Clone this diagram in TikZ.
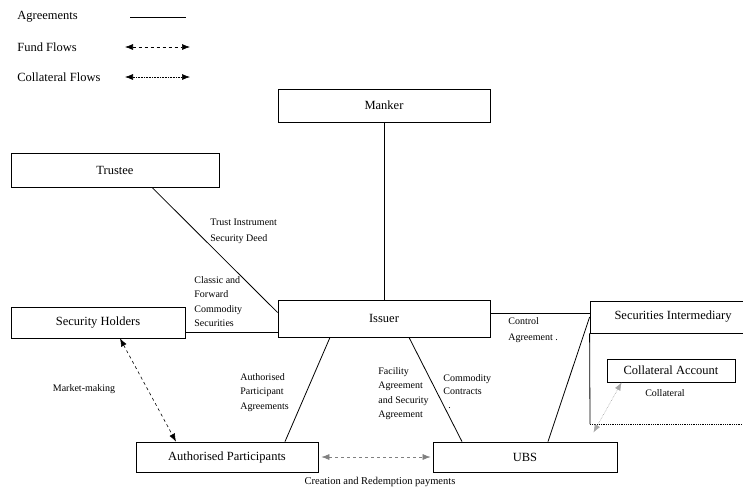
\documentclass[tikz,border=0pt]{standalone}
\usepackage{fontspec}
\setmainfont{Liberation Serif}
\usetikzlibrary{positioning,arrows.meta}

\begin{document}
\begin{tikzpicture}[x=1pt, y=-1pt, line width=0.8pt,
  box/.style={draw=black, inner sep=0pt, font=\fontsize{12.5}{14}\selectfont},
  lbl/.style={inner sep=0pt, align=left, anchor=north west, font=\fontsize{10}{14.4}\selectfont},
  tip/.style={{Latex[length=8pt,width=6pt]}-{Latex[length=8pt,width=6pt]}},
  fund/.style={tip, dashed, line width=0.6pt},
  coll/.style={tip, densely dotted, line width=0.6pt}]
\useasboundingbox (0,0) rectangle (743,491);
%% legend
\node[lbl, anchor=west, font=\fontsize{12.5}{14}\selectfont] (lagr) at (17,17) {Agreements};
\node[lbl, anchor=west, font=\fontsize{12.5}{14}\selectfont] (lfund) at (17,47) {Fund Flows};
\node[lbl, anchor=west, font=\fontsize{12.5}{14}\selectfont] (lcoll) at (17,77) {Collateral Flows};
\coordinate (a1) at (130,17) ; \coordinate (a2) at (186,17) ;
\coordinate (f1) at (125,47) ; \coordinate (f2) at (190,47) ;
\coordinate (c1) at (125,77) ; \coordinate (c2) at (190,77) ;
\draw (a1) -- (a2) ;
\draw[fund] (f1) -- (f2) ;
\draw[coll] (c1) -- (c2) ;
%% boxes
\node[box, minimum width=212pt, minimum height=33pt] (manker) at (384,105.5) {Manker};
\node[box, minimum width=208pt, minimum height=34pt] (trustee) at (115,170) {Trustee};
\node[box, minimum width=212pt, minimum height=37pt] (issuer) at (384,318.5) {Issuer};
\node[box, minimum width=174pt, minimum height=31pt] (holders) at (98,322.5) {Security Holders};
\node[box, minimum width=182pt, minimum height=30pt] (ap) at (227,457) {Authorised Participants};
\node[box, minimum width=184pt, minimum height=30pt] (ubs) at (525,457) {UBS};
% box Securities Intermediary
\node[box, minimum width=166pt, minimum height=32pt] (secint) at (673,317) {Securities Intermediary};
\coordinate (s1) at (590,424) ;
\coordinate (s2) at (760,424) ;
\draw (secint.south west) -- (s1) ;
\draw[densely dotted] (s1) -- (s2) ;
\node[box, minimum width=128pt, minimum height=23pt] (collacc) at (671,370.5) {Collateral Account};
%% agreements
\draw (manker.south) -- (issuer.north) ;
\draw ([xshift=37pt]trustee.south) -- ([yshift=6pt]issuer.west) ;
\draw ([yshift=-10pt]holders.east) coordinate (h1) -- (h1 -| issuer.west) ;
\draw ([yshift=5pt]issuer.east) coordinate (i1) -- (i1 -| secint.west) ;
\draw ([xshift=-54pt]issuer.south) -- ([xshift=58pt]ap.north) ;
\draw ([xshift=25pt]issuer.south) -- ([xshift=-63pt]ubs.north) ;
\draw ([xshift=23pt]ubs.north) -- (secint.west) ;
%% flows
\draw[fund] ([xshift=22pt]holders.south) -- ([xshift=-51pt]ap.north) ;
\draw[fund, gray] ([xshift=3pt]ap.east) -- ([xshift=-2pt]ubs.west) ;
\draw[coll, gray!70] ([shift={(-24pt,9pt)}]ubs.north east) -- ([xshift=15pt]collacc.south west) ;
%% labels
\node[lbl, font=\fontsize{10}{16}\selectfont] (ltrust) at (210,219) {Trust Instrument\\Security Deed};
\node[lbl] (lclassic) at (194,276) {Classic and\\Forward\\Commodity\\Securities};
\node[lbl, font=\fontsize{10}{16}\selectfont] (lcontrol) at (508,317) {Control\\Agreement .};
\node[lbl] (lapagr) at (240,373) {Authorised\\Participant\\Agreements};
\node[lbl] (lfacility) at (378,367) {Facility\\Agreement\\and Security\\Agreement};
\node[lbl, font=\fontsize{10}{13.5}\selectfont] (lcommodity) at (443,374) {Commodity\\Contracts\\\ \ .};
\node[lbl, anchor=center] (lcollateral) at (665,393) {Collateral};
\node[lbl, anchor=center] (lmarket) at (84,389) {Market-making};
\node[lbl, anchor=center, font=\fontsize{10.5}{12}\selectfont] (lcreation) at (380,482) {Creation and Redemption payments};
\end{tikzpicture}
\end{document}
